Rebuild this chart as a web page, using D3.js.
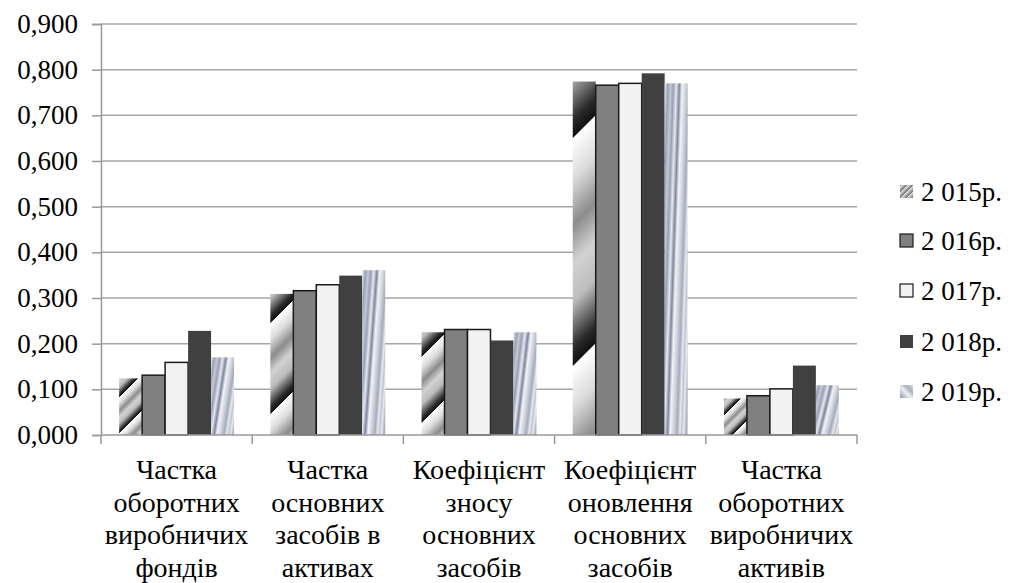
<!DOCTYPE html>
<html>
<head>
<meta charset="utf-8">
<script src="https://cdn.jsdelivr.net/npm/d3@7"></script>
<style>
  html, body { margin: 0; padding: 0; background: #fff; }
  svg text { fill: #000; }
</style>
</head>
<body>
<svg id="chart" width="1013" height="583"></svg>
<script>
// Indicator names (multi-line axis labels)
const categories = [
  ["Частка", "оборотних", "виробничих", "фондів"],
  ["Частка", "основних", "засобів в", "активах"],
  ["Коефіцієнт", "зносу", "основних", "засобів"],
  ["Коефіцієнт", "оновлення", "основних", "засобів"],
  ["Частка", "оборотних", "виробничих", "активів"]
];
const seriesNames = ["2 015р.", "2 016р.", "2 017р.", "2 018р.", "2 019р."];

// Values per year, one entry per indicator
const v2015 = [0.124, 0.309, 0.225, 0.774, 0.080];
const v2016 = [0.131, 0.316, 0.231, 0.766, 0.086];
const v2017 = [0.159, 0.329, 0.231, 0.770, 0.101];
const v2018 = [0.228, 0.349, 0.207, 0.792, 0.152];
const v2019 = [0.170, 0.361, 0.225, 0.770, 0.109];
const seriesValues = [v2015, v2016, v2017, v2018, v2019];

const yTicks = [0, 0.1, 0.2, 0.3, 0.4, 0.5, 0.6, 0.7, 0.8, 0.9];

// Pick the first installed Times-like serif face
function pickSerif() {
  const cv = document.createElement("canvas").getContext("2d");
  const sample = "Коефіцієнт 0,900 mmmwwwlli";
  const width = f => { cv.font = `40px ${f}`; return cv.measureText(sample).width; };
  const base = [width("monospace"), width("sans-serif")];
  const cands = ["Liberation Serif", "Tinos", "Times New Roman", "Noto Serif", "DejaVu Serif", "FreeSerif"];
  for (const c of cands) {
    const w1 = width(`"${c}", monospace`), w2 = width(`"${c}", sans-serif`);
    if (Math.abs(w1 - base[0]) > 0.5 || Math.abs(w2 - base[1]) > 0.5) return `"${c}", serif`;
  }
  return "serif";
}
const FONT = pickSerif();

const svg = d3.select("#chart");
const plot = { left: 101, right: 857, top: 24, bottom: 435 };

const x0 = d3.scaleBand().domain(d3.range(categories.length))
  .range([plot.left, plot.right]).paddingInner(0).paddingOuter(0);
const bw = x0.bandwidth();
const x1 = d3.scaleBand().domain(d3.range(seriesNames.length))
  .range([bw * 0.12, bw * 0.88]).padding(0);
const y = d3.scaleLinear().domain([0, 0.9]).range([plot.bottom, plot.top]);

const defs = svg.append("defs");

// Diagonal "reflection" stripes for 2015 bars
function stripeGradient(id, x, yTop, w, h) {
  const P = Math.max(28, h / 1.55);
  const d = P / Math.SQRT2;
  const cx = x + w / 2, cy = yTop + 0.2 * P;
  const g = defs.append("linearGradient").attr("id", id)
    .attr("gradientUnits", "userSpaceOnUse")
    .attr("spreadMethod", "repeat")
    .attr("x1", cx).attr("y1", cy)
    .attr("x2", cx + d / Math.SQRT2).attr("y2", cy + d / Math.SQRT2);
  [[0, "#ffffff"], [0.18, "#dcdcdc"], [0.38, "#8c8c8c"], [0.55, "#d2d2d2"],
   [0.72, "#bcbcbc"], [0.92, "#2a2a2a"], [0.995, "#111111"], [1, "#ffffff"]]
    .forEach(([o, c]) => g.append("stop").attr("offset", o).attr("stop-color", c));
}

// Brushed-metal streaks for 2019 bars
function metalGradient(id, x, yTop, w, h) {
  const s = 12 / h;
  const g = defs.append("linearGradient").attr("id", id)
    .attr("gradientUnits", "userSpaceOnUse")
    .attr("spreadMethod", "reflect")
    .attr("x1", x).attr("y1", yTop + h / 2)
    .attr("x2", x + w).attr("y2", yTop + h / 2 + w * s);
  [[0, "#c4c8d4"], [0.12, "#9aa1b6"], [0.25, "#e6e8ee"], [0.38, "#7e879f"],
   [0.5, "#f2f3f6"], [0.65, "#d0d3dc"], [0.8, "#a6abbd"], [0.92, "#e8e9ee"], [1, "#c0c4d0"]]
    .forEach(([o, c]) => g.append("stop").attr("offset", o).attr("stop-color", c));
}

// Gridlines
svg.append("g").selectAll("line").data(yTicks.slice(1)).join("line")
  .attr("x1", plot.left).attr("x2", plot.right)
  .attr("y1", d => y(d)).attr("y2", d => y(d))
  .attr("stroke", "#a6a6a6").attr("stroke-width", 1.5);

// Bars
const solid = [null, "#808080", "#f2f2f2", "#404040", null];
const bars = svg.append("g");
seriesValues.forEach((vals, s) => {
  vals.forEach((v, c) => {
    const bx = x0(c) + x1(s), bwid = x1.bandwidth();
    const top = y(v), h = y(0) - y(v);
    let fill = solid[s];
    if (s === 0) { stripeGradient(`g15-${c}`, bx, top, bwid, h); fill = `url(#g15-${c})`; }
    if (s === 4) { metalGradient(`g19-${c}`, bx, top, bwid, h); fill = `url(#g19-${c})`; }
    const r = bars.append("rect").attr("x", bx).attr("y", top)
      .attr("width", bwid).attr("height", h).attr("fill", fill);
    if (s === 1 || s === 2) r.attr("stroke", "#1a1a1a").attr("stroke-width", 1.5);
  });
});

// Y axis
const yAxis = d3.axisLeft(y).tickValues(yTicks).tickSize(9).tickPadding(14)
  .tickFormat(d => d3.format(".3f")(d).replace(".", ","));
const ya = svg.append("g").attr("transform", `translate(${plot.left},0)`).call(yAxis)
  .attr("font-family", FONT).attr("font-size", 27);
ya.select(".domain").attr("stroke", "#999").attr("stroke-width", 1.5);
ya.selectAll(".tick line").attr("stroke", "#999").attr("stroke-width", 1.5);
ya.selectAll(".tick text").style("font-family", FONT).style("font-size", "27px");

// X axis baseline with category separators
const xa = svg.append("g");
xa.append("line").attr("x1", plot.left).attr("x2", plot.right)
  .attr("y1", y(0)).attr("y2", y(0)).attr("stroke", "#999").attr("stroke-width", 1.5);
xa.selectAll("line.sep").data(d3.range(categories.length + 1)).join("line")
  .attr("class", "sep")
  .attr("x1", d => plot.left + d * bw).attr("x2", d => plot.left + d * bw)
  .attr("y1", y(0)).attr("y2", y(0) + 9)
  .attr("stroke", "#999").attr("stroke-width", 1.5);

// Category labels
const lab = svg.append("g");
categories.forEach((lines, c) => {
  const t = lab.append("text").attr("text-anchor", "middle")
    .style("font-family", FONT).style("font-size", "28px").attr("x", x0(c) + bw / 2);
  lines.forEach((ln, i) => t.append("tspan")
    .attr("x", x0(c) + bw / 2).attr("y", 479 + i * 32.7).text(ln));
});

// Legend
const legend = svg.append("g");
const legendY = [192, 241, 291, 342, 392];
seriesNames.forEach((name, s) => {
  const g = legend.append("g").attr("transform", `translate(900,${legendY[s]})`);
  let fill = solid[s];
  if (s === 0) {
    const lg = defs.append("linearGradient").attr("id", "lg15")
      .attr("gradientUnits", "userSpaceOnUse").attr("spreadMethod", "repeat")
      .attr("x1", 0).attr("y1", 0).attr("x2", 3).attr("y2", 3);
    [[0, "#f4f4f4"], [0.5, "#b8b8b8"], [1, "#777"]].forEach(([o, c]) =>
      lg.append("stop").attr("offset", o).attr("stop-color", c));
    fill = "url(#lg15)";
  }
  if (s === 4) {
    const lg = defs.append("linearGradient").attr("id", "lg19")
      .attr("x1", 0).attr("y1", 1).attr("x2", 1).attr("y2", 0);
    [[0, "#8f97ad"], [0.45, "#eceef2"], [0.7, "#a8aec0"], [1, "#dfe1e8"]].forEach(([o, c]) =>
      lg.append("stop").attr("offset", o).attr("stop-color", c));
    fill = "url(#lg19)";
  }
  const r = g.append("rect").attr("x", 0).attr("y", -7).attr("width", 13).attr("height", 13)
    .attr("fill", fill);
  if (s === 1 || s === 2) r.attr("stroke", "#1a1a1a").attr("stroke-width", 1.2);
  g.append("text").attr("x", 21).attr("y", 9).style("font-family", FONT)
    .style("font-size", "27px").text(name);
});
</script>
</body>
</html>
